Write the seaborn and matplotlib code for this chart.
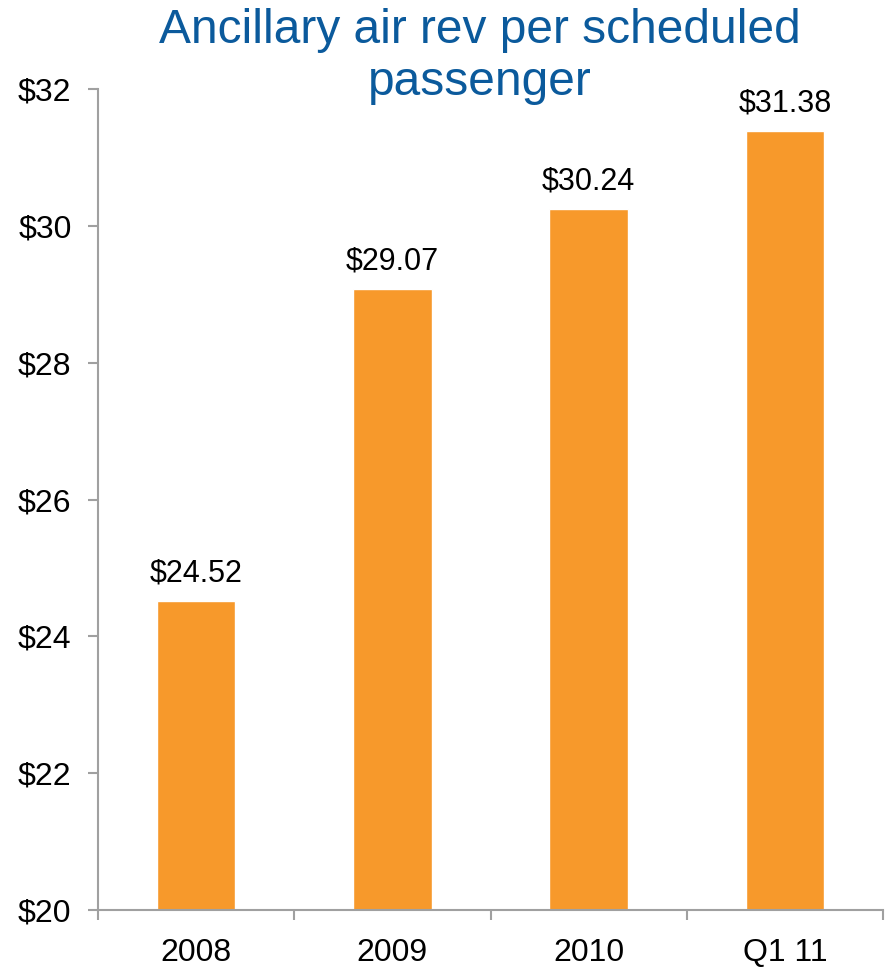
import matplotlib
matplotlib.use("Agg")
import matplotlib.pyplot as plt
import seaborn as sns
import pandas as pd
from matplotlib.ticker import FuncFormatter, FixedLocator

periods = ["2008", "2009", "2010", "Q1 11"]
rev_per_pax = [24.52, 29.07, 30.24, 31.38]
y_ticks = [20, 22, 24, 26, 28, 30, 32]
title_lines = ["Ancillary air rev per scheduled", "passenger"]

sns.set_style("white")
plt.rcParams["font.family"] = ["Liberation Sans", "DejaVu Sans"]

df = pd.DataFrame({"period": periods, "rev": rev_per_pax})

fig = plt.figure(figsize=(8.91, 9.71), dpi=100)
ax = fig.add_axes([98 / 891, 1 - 910 / 971, (883 - 98) / 891, (910 - 89) / 971])

sns.barplot(data=df, x="period", y="rev", color="#F7992B", saturation=1,
            width=0.4, ax=ax)

ax.set_xlim(-0.5, 3.5)
ax.set_ylim(20, 32)
ax.set_yticks(y_ticks)
ax.yaxis.set_major_formatter(FuncFormatter(lambda v, _: f"${v:.0f}"))
ax.set_xlabel("")
ax.set_ylabel("")

# category boundaries carry the tick marks on the x axis
ax.xaxis.set_minor_locator(FixedLocator([-0.5, 0.5, 1.5, 2.5, 3.5]))
ax.tick_params(axis="x", which="major", length=0, pad=20, labelsize=23,
               labelcolor="black")
ax.tick_params(axis="x", which="minor", length=7, width=1.5, color="#A0A0A0",
               direction="out", bottom=True)
ax.tick_params(axis="y", length=7, width=1.5, color="#A0A0A0",
               direction="out", left=True, pad=12, labelsize=23,
               labelcolor="black")

for side in ["top", "right"]:
    ax.spines[side].set_visible(False)
for side in ["left", "bottom"]:
    ax.spines[side].set_color("#A0A0A0")
    ax.spines[side].set_linewidth(1.5)

for i, v in enumerate(rev_per_pax):
    ax.annotate(f"${v:.2f}", xy=(i, v), xytext=(0, 9), textcoords="offset points",
                ha="center", va="bottom", fontsize=22, color="black")

# two-line title, each line placed on its own baseline
for line, base_px in zip(title_lines, [43, 95]):
    fig.text(480 / 891, 1 - base_px / 971, line, ha="center", va="baseline",
             fontsize=34.5, color="#0B5A9C")

fig.savefig("out.png", dpi=100, facecolor="white")
